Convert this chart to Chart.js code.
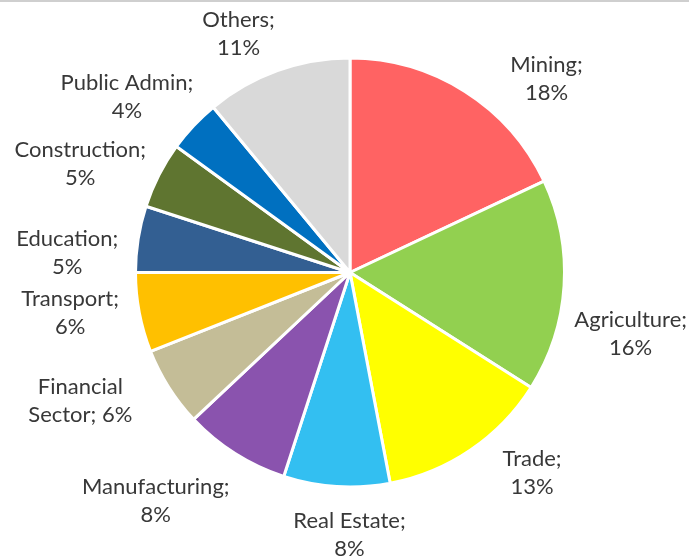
<!DOCTYPE html>
<html>
<head>
<meta charset="utf-8">
<script src="https://cdn.jsdelivr.net/npm/chart.js@4.4.0/dist/chart.umd.min.js"></script>
<style>
  html, body { margin: 0; padding: 0; background: #fff; }
  #wrap { width: 689px; height: 558px; position: relative; }
</style>
</head>
<body>
<div id="wrap"><canvas id="pie"></canvas></div>
<script>
// sectors, clockwise from 12 o'clock
const sectors = ['Mining', 'Agriculture', 'Trade', 'Real Estate', 'Manufacturing',
  'Financial\nSector', 'Transport', 'Education', 'Construction', 'Public Admin', 'Others'];
const shares = [18, 16, 13, 8, 8, 6, 6, 5, 5, 4, 11];
const sliceColors = ['#FF6363', '#92D050', '#FFFF00', '#33BFF1', '#8A53AE',
  '#C4BD97', '#FFC000', '#335F92', '#5F7530', '#0070C0', '#D9D9D9'];

// label placement tweaks: turn (degrees) off the slice's mid angle, push (px) along it
const labelTurn = [13, 8.5, -8, -3.5, 8, 7, 2.5, -5, -5, -5, -4.5];
const labelPush = [0, 0, 0, 4, 0, 9, 0, 0, -11, -16, 0];

const FONT = '22px Lato';
const LINE_H = 28;
const TEXT_COLOR = '#383838';

// label text: "Name;" / "NN%" unless the name already carries its own break
function labelLines(name, v) {
  if (name.includes('\n')) {
    const parts = name.split('\n');
    return [parts[0], parts[1] + '; ' + v + '%'];
  }
  return [name + ';', v + '%'];
}

const topRule = {
  id: 'topRule',
  beforeDraw(chart) {
    const ctx = chart.ctx;
    ctx.save();
    ctx.strokeStyle = '#CFCFCF';
    ctx.lineWidth = 2;
    ctx.beginPath();
    ctx.moveTo(0, 1);
    ctx.lineTo(chart.width, 1);
    ctx.stroke();
    ctx.restore();
  }
};

// outside-end labels, boxes pushed clear of the rim along the slice's mid angle
const outsideLabels = {
  id: 'outsideLabels',
  afterDatasetsDraw(chart) {
    const ctx = chart.ctx;
    const meta = chart.getDatasetMeta(0);
    const gap = 16;
    ctx.save();
    ctx.font = FONT;
    ctx.fillStyle = TEXT_COLOR;
    ctx.textAlign = 'center';
    ctx.textBaseline = 'middle';
    meta.data.forEach((arc, i) => {
      const p = arc.getProps(['x', 'y', 'startAngle', 'endAngle', 'outerRadius'], true);
      const mid = (p.startAngle + p.endAngle) / 2 + labelTurn[i] * Math.PI / 180;
      const dx = Math.cos(mid), dy = Math.sin(mid);
      const lines = labelLines(sectors[i], shares[i]);
      const w = Math.max(...lines.map(l => ctx.measureText(l).width));
      const h = lines.length * LINE_H;
      const reach = p.outerRadius + gap + labelPush[i] +
        Math.abs(dx) * w / 2 + Math.abs(dy) * h / 2;
      let cx = p.x + dx * reach;
      let cy = p.y + dy * reach;
      // keep the box on the canvas (top and sides)
      cy = Math.max(cy, h / 2 + 6);
      cx = Math.min(Math.max(cx, w / 2 + 4), chart.width - w / 2 - 2);
      lines.forEach((l, k) => {
        ctx.fillText(l, cx, cy - h / 2 + LINE_H / 2 + k * LINE_H);
      });
    });
    ctx.restore();
  }
};

new Chart(document.getElementById('pie'), {
  type: 'pie',
  data: {
    labels: sectors,
    datasets: [{
      data: shares,
      backgroundColor: sliceColors,
      borderColor: '#FFFFFF',
      borderWidth: 3
    }]
  },
  options: {
    responsive: true,
    maintainAspectRatio: false,
    animation: false,
    layout: { padding: { top: 56, bottom: 69, left: 134, right: 123 } },
    plugins: {
      legend: { display: false },
      tooltip: { enabled: false }
    }
  },
  plugins: [topRule, outsideLabels]
});
</script>
</body>
</html>
